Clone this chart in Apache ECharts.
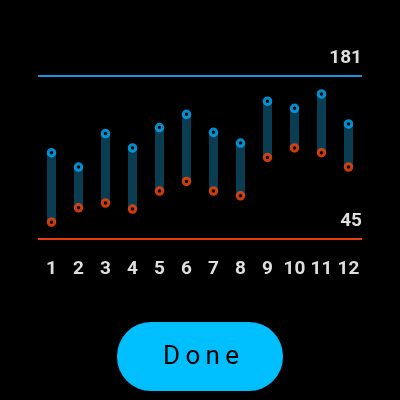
<!DOCTYPE html>
<html>
<head>
<meta charset="utf-8">
<script src="https://cdn.jsdelivr.net/npm/echarts@6/dist/echarts.min.js"></script>
<style>
  html, body { margin: 0; padding: 0; background: #000; }
  #chart { width: 400px; height: 400px; }
</style>
</head>
<body>
<div id="chart"></div>
<script>
var categories = ['1', '2', '3', '4', '5', '6', '7', '8', '9', '10', '11', '12'];
var highValues = [117, 105, 133, 121, 138, 149, 134, 125, 160, 154, 166, 141];
var lowValues = [59, 71, 75, 70, 85, 93, 85, 81, 113, 121, 117, 105];
var rangeMax = 181;
var rangeMin = 45;

var blue = '#00b0ff';
var red = '#ff4a0a';

// bar from low to high: transparent base + visible span
var spans = [];
for (var i = 0; i < highValues.length; i++) {
  spans.push(highValues[i] - lowValues[i]);
}

var labelFont = {
  color: '#dedede',
  fontFamily: 'Roboto',
  fontSize: 19,
  fontWeight: 'bold'
};

var chart = echarts.init(document.getElementById('chart'));
var option = {
  backgroundColor: '#000',
  animation: false,
  grid: { left: 38, right: 38, top: 76, bottom: 161 },
  xAxis: {
    type: 'category',
    data: categories,
    axisLine: { show: false },
    axisTick: { show: false },
    axisLabel: Object.assign({ margin: 21, interval: 0 }, labelFont)
  },
  yAxis: {
    type: 'value',
    min: rangeMin,
    max: rangeMax,
    show: false,
    splitLine: { show: false }
  },
  series: [
    {
      type: 'bar',
      stack: 'range',
      data: lowValues,
      barWidth: 9,
      itemStyle: { color: 'transparent' },
      silent: true
    },
    {
      type: 'bar',
      stack: 'range',
      data: spans,
      barWidth: 9,
      itemStyle: { color: '#0a3c52' }
    },
    {
      type: 'scatter',
      data: highValues,
      symbol: 'circle',
      symbolSize: 6.5,
      itemStyle: { color: '#000', borderColor: blue, borderWidth: 3 },
      z: 5,
      markLine: {
        silent: true,
        symbol: 'none',
        lineStyle: { color: '#1898dc', width: 2, type: 'solid' },
        label: Object.assign({ position: 'insideEndTop', distance: [0, 8] }, labelFont),
        data: [{ yAxis: rangeMax }]
      }
    },
    {
      type: 'scatter',
      data: lowValues,
      symbol: 'circle',
      symbolSize: 6.5,
      itemStyle: { color: '#000', borderColor: red, borderWidth: 3 },
      z: 5,
      markLine: {
        silent: true,
        symbol: 'none',
        lineStyle: { color: '#e83c0e', width: 2, type: 'solid' },
        label: Object.assign({ position: 'insideEndTop', distance: [0, 8] }, labelFont),
        data: [{ yAxis: rangeMin }]
      }
    }
  ],
  graphic: [
    {
      type: 'rect',
      shape: { x: 117, y: 322, width: 166, height: 69, r: 34 },
      style: { fill: '#00bfff' }
    },
    {
      type: 'text',
      x: 201,
      y: 357,
      style: {
        text: 'D\u2009o\u2009n\u2009e',
        fill: '#000',
        font: '26px Roboto',
        align: 'center',
        verticalAlign: 'middle'
      }
    }
  ]
};
chart.setOption(option);
</script>
</body>
</html>
